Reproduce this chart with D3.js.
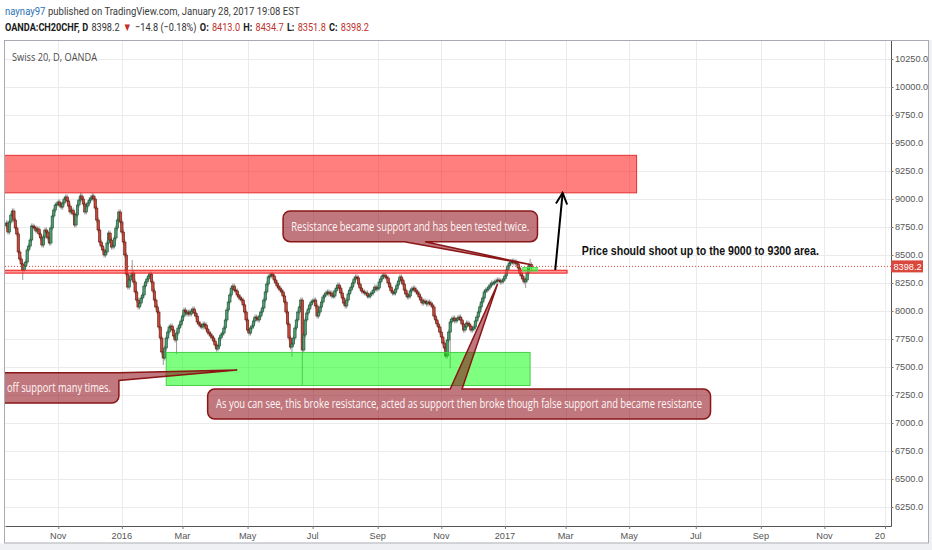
<!DOCTYPE html>
<html>
<head>
<meta charset="utf-8">
<script src="https://cdn.jsdelivr.net/npm/d3@7"></script>
<style>
  body { margin: 0; background: #fff; }
  svg { display: block; font-family: "Liberation Sans", Arial, sans-serif; }
</style>
</head>
<body>
<div id="chart"></div>
<script>
// ---- data ----
const firstBar = '2015-09-14';
const firstOpen = 8760;
const closes = [
  8786, 8705, 8795, 8857, 8893, 8812, 8741, 8688, 8527, 8464,
  8420, 8366, 8402, 8437, 8545, 8580, 8634, 8759, 8750, 8741,
  8714, 8732, 8688, 8652, 8589, 8661, 8723, 8705, 8652, 8607,
  8741, 8848, 8901, 8946, 8955, 8973, 8946, 8928, 8964, 9000,
  9018, 8982, 8937, 8884, 8901, 8866, 8768, 8857, 8946, 8991,
  9027, 9000, 8955, 8884, 8937, 8964, 8991, 9009, 9027, 9000,
  8919, 8812, 8723, 8616, 8580, 8545, 8500, 8527, 8607, 8696,
  8634, 8571, 8580, 8652, 8741, 8812, 8884, 8795,
  8705, 8616, 8500, 8330, 8214, 8277, 8313, 8339, 8259, 8170,
  8098, 8036, 8071, 8116, 8143, 8223, 8259, 8286, 8313, 8330,
  8259, 8179, 8098, 8036, 7991, 7857, 7759, 7634, 7580, 7670,
  7759, 7812, 7857, 7866, 7830, 7777, 7741, 7803, 7848, 7875,
  7911, 7955, 8009, 7991, 7973, 7991, 7973, 8000, 8018, 7982,
  7955, 7902, 7884, 7866, 7857, 7884, 7875, 7839, 7812, 7795,
  7777, 7759, 7732, 7696, 7661, 7687, 7759, 7786, 7803, 7848,
  7920, 8009, 8080, 8143, 8205, 8223, 8187, 8179, 8143, 8125,
  8107, 8098, 8054, 7991, 7920, 7830, 7803, 7848, 7866, 7911,
  7946, 7937, 7920, 7955, 7991, 8027, 8098, 8170, 8241, 8304,
  8313, 8330, 8313, 8277, 8250, 8223, 8205, 8187, 8170, 8134,
  8080, 7991, 7884, 7759, 7678, 7705, 7759, 7848, 7920, 7991,
  8036, 8098, 7652, 7786, 7920, 7982, 8018, 8054, 8080, 8089,
  8098, 8045, 7955, 7991, 8036, 8080, 8125, 8143, 8161, 8170,
  8152, 8161, 8134, 8134, 8179, 8205, 8232, 8205, 8161, 8116,
  8071, 8045, 8098, 8152, 8187, 8214, 8250, 8286, 8304, 8295,
  8241, 8205, 8179, 8170, 8161, 8161, 8134, 8134, 8152, 8161,
  8187, 8214, 8196, 8205, 8259, 8286, 8313, 8321, 8304, 8295,
  8250, 8214, 8179, 8161, 8161, 8196, 8232, 8268, 8304, 8277,
  8241, 8187, 8152, 8125, 8134, 8179, 8196, 8205, 8187, 8170,
  8152, 8125, 8098, 8071, 8089, 8080, 8063, 8080, 8071, 8054,
  8036, 7955, 7920, 7884, 7857, 7812, 7768, 7714, 7670, 7598,
  7741, 7812, 7902, 7928, 7937, 7911, 7920, 7937, 7946, 7920,
  7884, 7830, 7857, 7893, 7884, 7866, 7830, 7839, 7857, 7911,
  7946, 7991, 8036, 8080, 8116, 8170, 8187, 8196, 8214, 8232,
  8250, 8250, 8259, 8268, 8277, 8268, 8259, 8268, 8286, 8313,
  8366, 8402, 8428, 8437, 8446, 8428, 8437, 8420, 8384, 8339,
  8313, 8286, 8259, 8277, 8339, 8402, 8413.0, 8398.2
];
// bars whose wicks reach well past the body
const wickHighs = [['2015-11-23', 9056], ['2015-12-03', 9050], ['2016-01-13', 8455],
                   ['2017-01-26', 8465], ['2017-01-27', 8434.7]];
const wickLows = [['2015-09-29', 8277], ['2016-02-11', 7518], ['2016-02-24', 7616],
                  ['2016-06-13', 7590], ['2016-06-22', 7335], ['2016-11-09', 7490],
                  ['2017-01-23', 8205], ['2017-01-27', 8351.8]];

const yTicks = [6250, 6500, 6750, 7000, 7250, 7500, 7750, 8000, 8250, 8500, 8750,
                9000, 9250, 9500, 9750, 10000, 10250];
const xTickMonths = ['2015-11', '2016-01', '2016-03', '2016-05', '2016-07', '2016-09', '2016-11',
                     '2017-01', '2017-03', '2017-05', '2017-07', '2017-09', '2017-11', '2018-01'];
const xTickLabels = ['Nov', '2016', 'Mar', 'May', 'Jul', 'Sep', 'Nov',
                     '2017', 'Mar', 'May', 'Jul', 'Sep', 'Nov', '2018'];

const lastPrice = 8398.2;
const headerLine1 = [['naynay97', 'normal', '#2a72b5'],
                     ['published on TradingView.com, January 28, 2017 19:08 EST', 'normal', '#3a3a3a']];
const headerLine2 = [['OANDA:CH20CHF, D', 'bold', '#1a1a1a'], ['8398.2', 'normal', '#333'],
                     ['▼', 'normal', '#c0302c'], ['−14.8 (−0.18%)', 'normal', '#333'],
                     ['O:', 'bold', '#1a1a1a'], ['8413.0', 'normal', '#c0302c'],
                     ['H:', 'bold', '#1a1a1a'], ['8434.7', 'normal', '#c0302c'],
                     ['L:', 'bold', '#1a1a1a'], ['8351.8', 'normal', '#c0302c'],
                     ['C:', 'bold', '#1a1a1a'], ['8398.2', 'normal', '#c0302c']];

// drawings: [from date, to date, top price, bottom price]
const resistanceZone = ['2015-08-03', '2017-05-08', 9390, 9055];
const supportZone = ['2016-02-15', '2017-01-26', 7630, 7335];
const breakLine = ['2015-08-03', '2017-03-02', 8364, 8338];
const retestZone = ['2017-01-19', '2017-02-02', 8388, 8357];
const arrowPoints = [['2017-02-20', 8366], ['2017-02-27', 9055]];
const noteText = 'Price should shoot up to the 9000 to 9300 area.';
const noteAnchor = ['2017-03-16', 8500];

const calloutTexts = [
  'Resistance became support and has been tested twice.',
  'off support many times.',
  'As you can see, this broke resistance, acted as support then broke though false support and became resistance'
];
const calloutBoxes = [
  ['2016-06-03', '2017-02-02', 8893, 8619],
  ['2015-08-03', '2015-12-30', 7449, 7178],
  ['2016-03-24', '2017-07-17', 7303, 7035]
];
// [edge, base start, base end, tip date, tip price]
const calloutPointers = [
  ['bottom', '2016-09-27', '2016-10-17', '2017-01-26', 8415],
  ['right', 7449, 7380, '2016-04-21', 7473],
  ['top', '2016-11-09', '2016-11-21', '2016-12-23', 8241]
];

// ---- layout / style ----
const W = 932, H = 550;
const plot = {left: 5, top: 40, right: 891, bottom: 526};
const calloutAlign = ['middle', 'end', 'middle'];
const calloutTextWidth = [238, 104, 486];

// trading days (weekdays without the year-end holidays)
const holidays = ['12-25', '12-26', '01-01', '01-02'];
const md = d3.timeFormat('%m-%d');
const parse = d3.timeParse('%Y-%m-%d');
const days = d3.timeDay.range(new Date(2015, 7, 3), new Date(2018, 2, 1))
  .filter(d => d.getDay() % 6 !== 0 && !holidays.includes(md(d)));
const idx = s => d3.bisectLeft(days, parse(s));

const x = d3.scaleLinear()
  .domain([idx('2015-09-11'), idx('2018-01-09')])
  .range([plot.left, plot.right]);
const y = d3.scaleLinear()
  .domain([6080.4, 10419.6])
  .range([plot.bottom, plot.top]);
const X = s => x(idx(s));

const start = idx(firstBar);
const hiMap = new Map(wickHighs), loMap = new Map(wickLows);
const fmt = d3.timeFormat('%Y-%m-%d');
const bars = closes.map((c, k) => {
  const i = start + k;
  const key = fmt(days[i]);
  return {i, o: k ? closes[k - 1] : firstOpen, c, hi: hiMap.get(key), lo: loMap.get(key)};
});

function fit(sel, w) {
  sel.attr('textLength', w).attr('lengthAdjust', 'spacingAndGlyphs');
}

const svg = d3.select('#chart').append('svg').attr('width', W).attr('height', H);
svg.append('rect').attr('width', W).attr('height', H).attr('fill', '#fff');
svg.append('rect').attr('y', 543.5).attr('width', W).attr('height', H - 543.5).attr('fill', '#eef0f3');
svg.append('rect').attr('x', 929).attr('y', 40).attr('width', W - 929).attr('height', H - 40).attr('fill', '#eef0f3');

const defs = svg.append('defs');
defs.append('clipPath').attr('id', 'plotClip').append('rect')
  .attr('x', plot.left).attr('y', plot.top)
  .attr('width', plot.right - plot.left).attr('height', plot.bottom - plot.top);
defs.append('clipPath').attr('id', 'xClip').append('rect')
  .attr('x', 0).attr('y', plot.bottom).attr('height', 20)
  .attr('width', x(idx('2018-01-01')) + 0.5);
defs.append('marker').attr('id', 'head')
  .attr('viewBox', '0 0 10 10').attr('refX', 9).attr('refY', 5)
  .attr('markerWidth', 7).attr('markerHeight', 7).attr('orient', 'auto')
  .append('path').attr('d', 'M1,1 L9,5 L1,9').attr('fill', 'none')
  .attr('stroke', '#000').attr('stroke-width', 1.4);

// ---- header: pieces laid out in a row, the row squeezed to the width seen ----
function headerRow(parts, yPos, width, gap, size) {
  const g = svg.append('g').style('font-family', 'Roboto, "Open Sans", sans-serif');
  let cx = 0;
  parts.forEach(([t, w, c]) => {
    const el = g.append('text').attr('x', cx).attr('y', yPos)
      .style('font-size', size + 'px').attr('font-weight', w).attr('fill', c).text(t);
    cx += el.node().getComputedTextLength() + gap;
  });
  const k = width / (cx - gap);
  g.attr('transform', `translate(5,0) scale(${k},1)`);
}
headerRow(headerLine1, 15, 295, 3, 11.5);
headerRow(headerLine2, 31, 364, 4, 11.5);

// ---- grid ----
const xTickIdx = xTickMonths.map(m => idx(m + '-01'));
const grid = svg.append('g').attr('clip-path', 'url(#plotClip)')
  .attr('stroke', '#ebebeb').attr('stroke-width', 1);
grid.selectAll('.v').data(xTickIdx).join('line').attr('class', 'v')
  .attr('x1', d => Math.round(x(d)) + 0.5).attr('x2', d => Math.round(x(d)) + 0.5)
  .attr('y1', plot.top).attr('y2', plot.bottom);
grid.selectAll('.h').data(yTicks).join('line').attr('class', 'h')
  .attr('y1', d => Math.round(y(d)) + 0.5).attr('y2', d => Math.round(y(d)) + 0.5)
  .attr('x1', plot.left).attr('x2', plot.right);

svg.append('text').attr('x', 12).attr('y', 60.5)
  .style('font-family', '"Open Sans", sans-serif').style('font-size', '10.5px')
  .attr('fill', '#4d4d4d').text('Swiss 20, D, OANDA').call(fit, 85);

const area = svg.append('g').attr('clip-path', 'url(#plotClip)');

// ---- candles ----
const upFill = '#4f9c72', upLine = '#1d4f33', dnFill = '#c4493a', dnLine = '#5e170e';
area.append('g').selectAll('line').data(bars).join('line')
  .attr('x1', d => x(d.i)).attr('x2', d => x(d.i))
  .attr('y1', d => d.hi != null ? y(d.hi) : y(Math.max(d.o, d.c)) - 2.5)
  .attr('y2', d => d.lo != null ? y(d.lo) : y(Math.min(d.o, d.c)) + 2.5)
  .attr('stroke', '#8c8c8c').attr('stroke-width', 0.9);
area.append('g').selectAll('rect').data(bars).join('rect')
  .attr('x', d => x(d.i) - 1.2).attr('width', 2.4)
  .attr('y', d => y(Math.max(d.o, d.c)))
  .attr('height', d => Math.max(1, Math.abs(y(d.o) - y(d.c))))
  .attr('fill', d => d.c >= d.o ? upFill : dnFill)
  .attr('stroke', d => d.c >= d.o ? upLine : dnLine).attr('stroke-width', 0.6);

// ---- drawings ----
function zone(z, fill, stroke) {
  const [d0, d1, p0, p1] = z;
  area.append('rect')
    .attr('x', X(d0)).attr('width', X(d1) - X(d0))
    .attr('y', y(p0)).attr('height', y(p1) - y(p0))
    .attr('fill', fill).attr('stroke', stroke).attr('stroke-width', 1);
}
zone(resistanceZone, 'rgba(255,0,0,0.5)', '#e53030');
zone(supportZone, 'rgba(0,255,0,0.5)', '#46d046');

area.append('line')
  .attr('x1', plot.left).attr('x2', plot.right)
  .attr('y1', y(lastPrice)).attr('y2', y(lastPrice))
  .attr('stroke', '#d8483d').attr('stroke-width', 1).attr('stroke-dasharray', '1,2');

zone(breakLine, 'rgba(255,80,80,0.6)', '#f01c1c');
zone(retestZone, 'rgba(0,255,0,0.5)', '#55dd55');

area.append('line')
  .attr('x1', X(arrowPoints[0][0])).attr('y1', y(arrowPoints[0][1]))
  .attr('x2', X(arrowPoints[1][0])).attr('y2', y(arrowPoints[1][1]))
  .attr('stroke', '#000').attr('stroke-width', 2).attr('marker-end', 'url(#head)');

area.append('text').attr('x', X(noteAnchor[0])).attr('y', y(noteAnchor[1]))
  .attr('font-weight', 'bold').style('font-size', '13px').attr('fill', '#111')
  .text(noteText).call(fit, 237);

function calloutPath(b, p) {
  const r = 7;
  let s = `M${b.l + r},${b.t}`;
  if (p.side === 'top') s += `H${p.a}L${p.tx},${p.ty}L${p.b},${b.t}`;
  if (p.side === 'right') s += `H${b.r}V${p.a}L${p.tx},${p.ty}L${b.r},${p.b}`;
  else s += `H${b.r - r}A${r},${r} 0 0 1 ${b.r},${b.t + r}`;
  s += `V${b.bt - r}A${r},${r} 0 0 1 ${b.r - r},${b.bt}`;
  if (p.side === 'bottom') s += `H${p.b}L${p.tx},${p.ty}L${p.a},${b.bt}`;
  s += `H${b.l + r}A${r},${r} 0 0 1 ${b.l},${b.bt - r}V${b.t + r}A${r},${r} 0 0 1 ${b.l + r},${b.t}Z`;
  return s;
}

calloutTexts.forEach((t, k) => {
  const [d0, d1, p0, p1] = calloutBoxes[k];
  const b = {l: X(d0), r: X(d1), t: y(p0), bt: y(p1)};
  const [side, a, e, td, tp] = calloutPointers[k];
  const p = side === 'right'
    ? {side, a: y(a), b: y(e), tx: X(td), ty: y(tp)}
    : {side, a: X(a), b: X(e), tx: X(td), ty: y(tp)};
  area.append('path').attr('d', calloutPath(b, p))
    .attr('fill', 'rgba(140,10,20,0.55)').attr('stroke', '#8a1616').attr('stroke-width', 1.5);
  const tx = calloutAlign[k] === 'end' ? b.r - 8 : (b.l + b.r) / 2;
  area.append('text').attr('x', tx).attr('y', (b.t + b.bt) / 2).attr('dy', '0.36em')
    .attr('text-anchor', calloutAlign[k])
    .style('font-family', '"Open Sans", sans-serif').style('font-size', '12px')
    .attr('fill', '#fff6f6').text(t).call(fit, calloutTextWidth[k]);
});

// ---- axes ----
const yAxis = svg.append('g').attr('transform', `translate(${plot.right},0)`)
  .call(d3.axisRight(y).tickValues(yTicks).tickSize(2.5).tickSizeOuter(0).tickPadding(1.5)
    .tickFormat(d3.format('.1f')));
yAxis.select('.domain').attr('stroke', '#555');
yAxis.selectAll('.tick line').attr('stroke', '#777');
yAxis.selectAll('text').attr('fill', '#555').style('font-size', '9.2px')
  .style('font-family', '"Liberation Sans", Arial, sans-serif');

svg.append('rect').attr('x', plot.right).attr('y', y(lastPrice) - 6)
  .attr('width', 32).attr('height', 12).attr('fill', '#d8483d');
svg.append('text').attr('x', plot.right + 2.5).attr('y', y(lastPrice)).attr('dy', '0.35em')
  .attr('fill', '#fff').style('font-size', '9.2px').text(lastPrice.toFixed(1));

const xg = svg.append('g').attr('transform', `translate(0,${plot.bottom})`)
  .call(d3.axisBottom(x).tickValues(xTickIdx).tickSize(3).tickSizeOuter(0).tickFormat(''));
xg.select('.domain').attr('stroke', '#555');
xg.selectAll('.tick line').attr('stroke', '#777');
// labels kept apart so the last one can be cut at the price scale
svg.append('g').attr('clip-path', 'url(#xClip)')
  .selectAll('text').data(xTickIdx).join('text')
  .attr('x', d => x(d)).attr('y', plot.bottom + 6.3).attr('dy', '0.71em')
  .attr('text-anchor', 'middle').attr('fill', '#555').style('font-size', '9.2px')
  .text((d, i) => xTickLabels[i]);

// outer frame
svg.append('rect').attr('x', 4.5).attr('y', 40.5).attr('width', 924).attr('height', 502.5)
  .attr('fill', 'none').attr('stroke', '#a8abb2');
</script>
</body>
</html>
